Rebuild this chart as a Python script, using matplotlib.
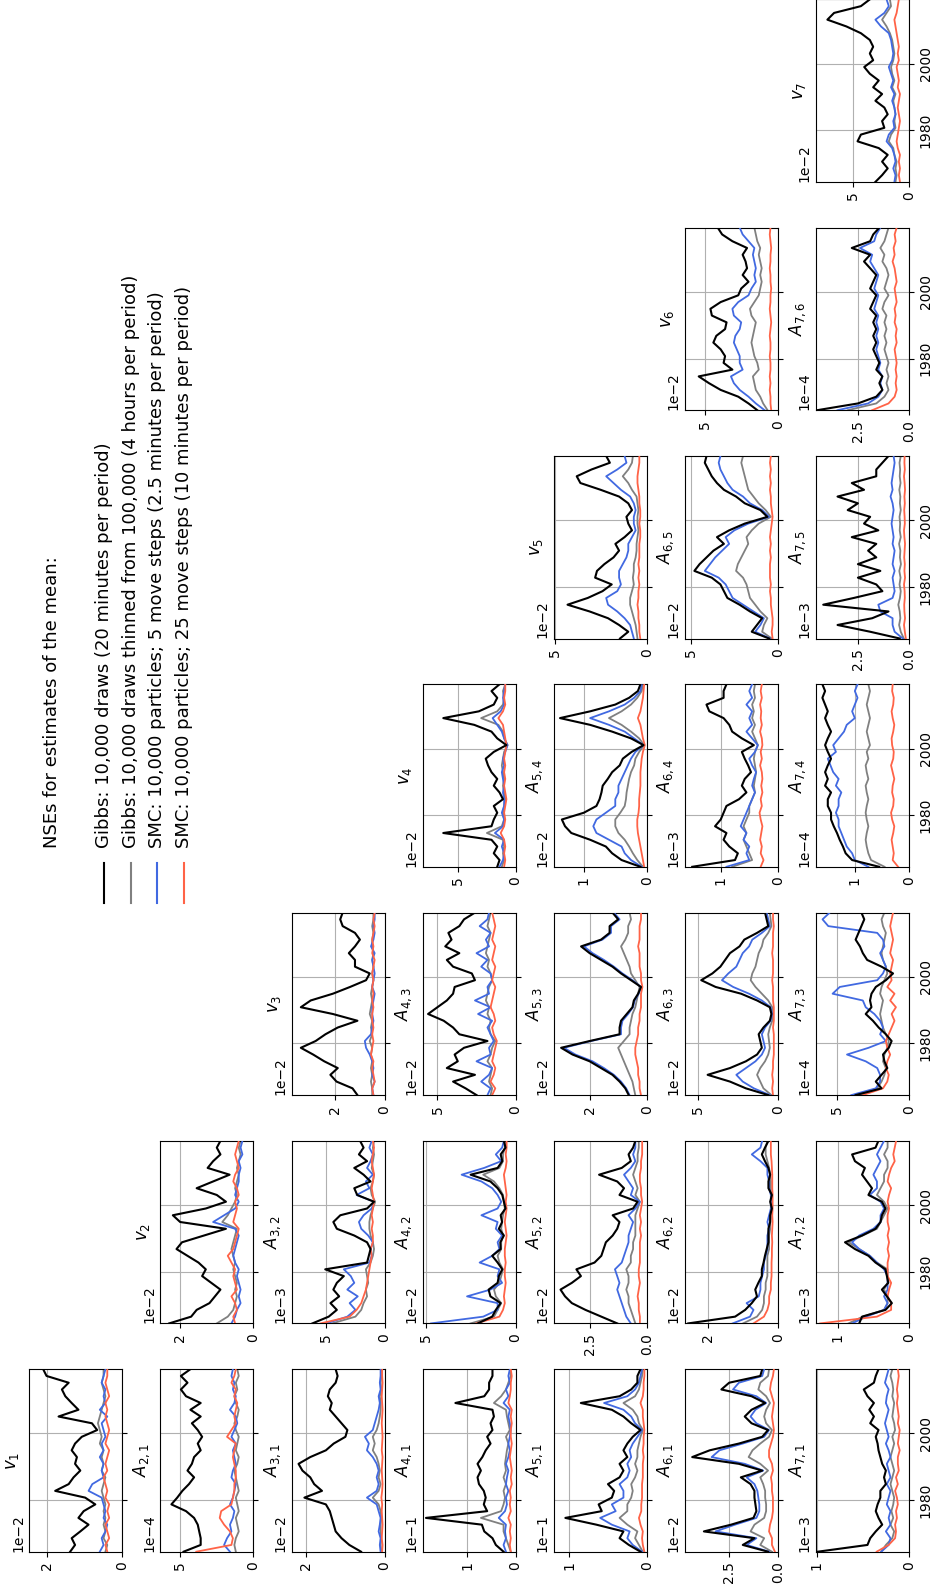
import numpy as np
import matplotlib
matplotlib.use("Agg")
import matplotlib.pyplot as plt
from matplotlib.lines import Line2D

# ---------------- data ----------------
YEARS = np.linspace(1964.5, 2019.3, 28)
SERIES = ["Gibbs: 10,000 draws (20 minutes per period)",
          "Gibbs: 10,000 draws thinned from 100,000 (4 hours per period)",
          "SMC: 10,000 particles; 5 move steps (2.5 minutes per period)",
          "SMC: 10,000 particles; 25 move steps (10 minutes per period)"]
COLORS = ["black", "#808080", "#4169e1", "#ff6347"]
LEGEND_TITLE = "NSEs for estimates of the mean:"

# each panel: [gibbs, gibbs thinned, smc 5 steps, smc 25 steps]  (values in units of 10^exp)
v1 = [[1.39,1.26,1.35,1.12,0.90,1.17,1.03,0.72,0.99,1.79,1.43,1.30,1.12,1.26,1.21,1.35,1.26,1.08,0.67,0.81,1.70,1.17,1.35,1.52,1.61,1.43,2.02,2.11],
      [0.45,0.40,0.50,0.45,0.50,0.45,0.50,0.45,0.50,0.55,0.50,0.45,0.55,0.50,0.55,0.50,0.60,0.55,0.60,0.65,0.60,0.55,0.50,0.45,0.50,0.55,0.50,0.50],
      [0.60,0.50,0.55,0.45,0.40,0.50,0.45,0.50,0.55,0.90,0.80,0.50,0.55,0.50,0.60,0.50,0.55,0.45,0.50,0.55,0.40,0.60,0.45,0.50,0.45,0.55,0.50,0.45],
      [0.40,0.45,0.35,0.40,0.45,0.35,0.40,0.35,0.45,0.40,0.45,0.50,0.40,0.45,0.40,0.35,0.45,0.40,0.35,0.40,0.45,0.40,0.45,0.35,0.40,0.45,0.40,0.40]]
A21 = [[4.77,3.6,3.6,3.7,3.8,4.05,4.6,5.6,5.2,4.85,4.4,4.05,4.5,4.2,4.05,3.6,3.8,3.5,3.8,4.2,3.6,4.3,3.6,4.6,4.95,4.5,4.95,4.3],
       [1.2,1.3,1.2,1.0,1.1,1.2,1.0,1.1,1.2,1.0,1.1,1.2,1.3,1.1,1.0,1.2,1.1,1.0,1.2,1.3,1.1,1.0,1.2,1.3,1.1,1.2,1.0,1.1],
       [1.6,2.0,1.8,1.5,1.6,1.4,1.3,1.6,1.4,1.3,1.2,1.5,1.4,1.2,1.3,1.4,1.2,1.5,1.3,1.1,1.2,1.6,1.3,1.2,1.4,1.3,1.5,1.4],
       [3.9,1.5,1.4,1.6,2.0,2.3,2.2,1.5,1.4,1.3,1.3,1.2,1.2,1.3,1.4,1.3,1.2,1.8,1.5,1.2,1.3,1.2,1.1,1.3,1.2,1.5,1.3,1.2]]
A31 = [[0.6,0.9,1.1,1.25,1.3,1.35,1.4,1.5,2.05,1.6,1.8,1.9,2.1,2.2,1.9,1.5,1.3,1.0,0.95,1.1,1.25,1.4,1.35,1.45,1.4,1.25,1.2,1.25],
       [0.08,0.1,0.08,0.1,0.1,0.08,0.1,0.15,0.3,0.15,0.1,0.15,0.12,0.15,0.2,0.3,0.25,0.3,0.2,0.15,0.12,0.1,0.1,0.12,0.08,0.1,0.08,0.08],
       [0.1,0.12,0.1,0.15,0.12,0.1,0.15,0.2,0.45,0.2,0.15,0.2,0.15,0.2,0.3,0.45,0.4,0.5,0.3,0.25,0.2,0.15,0.12,0.15,0.1,0.12,0.1,0.1],
       [0.06,0.05,0.07,0.06,0.05,0.06,0.07,0.06,0.08,0.06,0.05,0.06,0.07,0.06,0.05,0.07,0.06,0.05,0.06,0.07,0.06,0.05,0.06,0.07,0.06,0.05,0.06,0.06]]
A41 = [[0.25,0.41,0.48,0.65,0.7,1.86,0.59,0.66,0.62,0.66,0.76,0.79,0.72,0.79,0.69,0.62,0.52,0.59,0.48,0.52,0.45,0.48,1.25,0.65,0.55,0.55,0.48,0.48],
       [0.1,0.15,0.2,0.25,0.25,0.72,0.3,0.25,0.22,0.25,0.2,0.25,0.2,0.22,0.2,0.18,0.15,0.2,0.12,0.15,0.18,0.2,0.45,0.3,0.2,0.15,0.1,0.12],
       [0.2,0.25,0.2,0.22,0.2,0.35,0.22,0.18,0.2,0.15,0.2,0.18,0.15,0.2,0.15,0.12,0.15,0.12,0.1,0.12,0.15,0.12,0.25,0.15,0.2,0.12,0.15,0.12],
       [0.1,0.12,0.1,0.12,0.1,0.15,0.1,0.12,0.1,0.12,0.08,0.1,0.08,0.1,0.12,0.1,0.08,0.1,0.1,0.08,0.1,0.08,0.15,0.12,0.1,0.1,0.08,0.1]]
A51 = [[0.08,0.23,0.35,0.3,0.65,1.05,0.58,0.62,0.45,0.42,0.5,0.35,0.3,0.35,0.25,0.3,0.25,0.18,0.08,0.2,0.3,0.45,0.85,0.35,0.2,0.12,0.12,0.08],
       [0.05,0.1,0.15,0.12,0.25,0.35,0.25,0.25,0.2,0.18,0.2,0.15,0.12,0.15,0.12,0.12,0.1,0.08,0.05,0.1,0.12,0.18,0.3,0.15,0.1,0.08,0.06,0.05],
       [0.06,0.18,0.25,0.22,0.45,0.6,0.4,0.45,0.3,0.3,0.35,0.25,0.22,0.25,0.2,0.22,0.18,0.12,0.06,0.15,0.2,0.3,0.55,0.25,0.15,0.1,0.08,0.06],
       [0.03,0.05,0.06,0.05,0.08,0.1,0.07,0.07,0.06,0.06,0.06,0.05,0.05,0.05,0.04,0.05,0.04,0.04,0.03,0.04,0.05,0.05,0.08,0.05,0.04,0.04,0.03,0.03]]
A61 = [[0.5,1.8,1.2,3.8,2.4,1.25,1.1,1.15,1.2,1.2,1.4,1.9,0.8,2.0,4.4,3.5,2.0,0.8,0.5,1.35,1.7,1.35,0.65,1.35,2.9,2.5,0.9,0.8],
       [0.3,0.9,0.7,1.4,1.2,0.7,0.6,0.6,0.65,0.65,0.75,0.9,0.5,0.9,1.5,1.3,0.9,0.45,0.3,0.6,0.7,0.6,0.4,0.6,1.0,0.9,0.5,0.45],
       [0.45,1.6,1.1,3.2,2.2,1.1,0.95,0.95,1.0,1.05,1.2,1.6,0.75,1.7,3.4,3.0,1.8,0.7,0.45,1.1,1.4,1.15,0.6,1.1,2.3,2.0,0.8,0.7],
       [0.15,0.3,0.3,0.45,0.4,0.3,0.25,0.25,0.25,0.3,0.3,0.35,0.25,0.3,0.45,0.45,0.35,0.25,0.2,0.25,0.3,0.25,0.2,0.3,0.4,0.35,0.25,0.2]]
A71 = [[0.99,0.45,0.42,0.36,0.29,0.33,0.36,0.34,0.31,0.31,0.25,0.27,0.25,0.29,0.31,0.33,0.34,0.36,0.33,0.42,0.38,0.43,0.38,0.45,0.49,0.38,0.36,0.33],
       [0.3,0.25,0.18,0.16,0.2,0.17,0.19,0.17,0.16,0.18,0.2,0.18,0.16,0.18,0.2,0.18,0.16,0.18,0.15,0.16,0.18,0.17,0.16,0.18,0.17,0.18,0.2,0.18],
       [0.3,0.22,0.2,0.25,0.2,0.22,0.2,0.24,0.22,0.2,0.24,0.2,0.22,0.24,0.2,0.22,0.25,0.22,0.24,0.26,0.24,0.22,0.25,0.24,0.22,0.26,0.24,0.22],
       [0.35,0.22,0.15,0.14,0.15,0.13,0.14,0.12,0.13,0.15,0.12,0.14,0.11,0.12,0.12,0.1,0.12,0.11,0.1,0.12,0.11,0.12,0.13,0.12,0.13,0.12,0.11,0.12]]
v2 = [[2.3,1.7,1.55,1.2,1.05,0.9,1.15,1.4,1.3,1.5,1.8,2.1,1.95,1.35,0.75,2.0,2.2,1.3,0.75,1.0,1.55,1.1,0.65,1.25,1.1,0.9,1.0,0.9],
      [1.0,0.7,0.55,0.5,0.45,0.5,0.45,0.5,0.55,0.5,0.55,0.6,0.55,0.5,0.45,0.85,0.7,0.6,0.5,0.45,0.5,0.45,0.4,0.45,0.4,0.35,0.4,0.35],
      [0.6,0.5,0.45,0.35,0.4,0.35,0.4,0.45,0.4,0.5,0.55,0.5,0.45,0.4,0.5,1.1,0.8,0.5,0.4,0.5,0.45,0.4,0.4,0.35,0.4,0.3,0.35,0.3],
      [0.5,0.55,0.45,0.5,0.6,0.45,0.5,0.55,0.5,0.6,0.7,0.55,0.5,0.45,0.4,0.55,0.5,0.45,0.5,0.4,0.45,0.55,0.5,0.4,0.45,0.5,0.45,0.4]]
A32 = [[6.2,4.8,4.1,4.65,3.9,4.4,4.1,3.5,5.1,1.5,1.35,1.2,1.5,2.6,4.1,4.4,3.8,1.5,0.9,2.35,2.6,1.2,1.8,2.6,1.5,2.2,1.8,2.1],
       [4.5,2.5,2.0,1.8,1.5,1.6,1.4,1.5,1.6,1.2,1.0,0.9,1.0,1.2,1.3,1.3,1.2,1.0,0.8,1.1,1.2,1.0,0.9,1.1,1.0,0.9,1.0,0.9],
       [5.0,3.2,2.5,3.0,2.3,3.2,2.6,2.9,3.5,1.3,1.1,1.2,1.0,1.4,2.0,2.2,1.8,1.1,0.9,2.4,1.3,1.6,1.0,1.5,1.2,1.0,1.3,1.1],
       [5.5,3.0,2.4,2.0,1.8,1.6,1.5,1.4,1.3,1.2,1.1,1.2,1.0,1.0,1.1,1.0,1.1,1.0,0.9,1.0,1.1,1.0,0.9,1.0,1.1,1.0,0.9,1.0]]
A42 = [[2.1,1.3,1.1,0.83,1.4,1.5,1.0,0.93,0.74,1.0,1.3,0.83,0.85,0.65,0.93,0.75,0.83,0.56,0.65,0.74,1.0,1.4,2.5,1.0,0.74,0.83,0.56,0.65],
       [2.5,1.2,1.0,0.8,1.1,1.2,0.9,0.8,0.7,0.9,1.0,0.8,0.8,0.7,0.8,0.75,0.7,0.6,0.65,0.7,0.9,1.2,1.8,0.9,0.7,0.7,0.6,0.6],
       [4.7,1.8,1.0,1.0,2.7,1.4,0.75,1.0,0.9,2.0,1.3,0.9,1.0,0.75,1.1,1.0,1.9,1.0,0.8,1.0,1.3,1.9,3.0,1.75,0.8,1.1,0.75,0.65],
       [2.2,0.9,0.7,0.6,0.65,0.6,0.55,0.6,0.6,0.55,0.6,0.6,0.55,0.5,0.55,0.6,0.55,0.5,0.55,0.5,0.55,0.6,0.65,0.55,0.5,0.55,0.5,0.5]]
A52 = [[1.3,2.0,2.7,3.3,3.6,3.8,3.3,2.9,3.1,2.3,2.0,1.9,1.8,1.5,1.3,1.2,1.5,0.6,0.4,1.2,1.0,1.3,2.1,1.1,0.7,0.8,0.6,0.5],
       [0.5,0.6,0.7,0.8,0.8,0.9,0.8,0.8,0.9,0.7,0.7,0.6,0.6,0.5,0.5,0.5,0.5,0.4,0.3,0.5,0.4,0.5,0.6,0.5,0.4,0.4,0.35,0.35],
       [0.7,0.9,1.0,1.1,1.2,1.3,1.2,1.3,1.4,1.1,1.0,0.9,0.8,0.8,0.7,0.6,0.8,0.5,0.3,0.7,0.6,0.8,1.0,0.7,0.5,0.6,0.5,0.5],
       [0.3,0.3,0.35,0.35,0.4,0.35,0.3,0.35,0.35,0.3,0.3,0.3,0.3,0.25,0.3,0.25,0.3,0.25,0.2,0.25,0.25,0.3,0.3,0.25,0.25,0.2,0.2,0.2]]
A62 = [[2.58,1.23,0.94,0.75,0.6,0.65,0.56,0.46,0.46,0.41,0.37,0.32,0.27,0.27,0.27,0.22,0.22,0.17,0.22,0.17,0.27,0.27,0.22,0.27,0.37,0.46,0.37,0.27],
       [1.0,0.6,0.45,0.4,0.4,0.35,0.35,0.3,0.3,0.3,0.3,0.25,0.25,0.25,0.22,0.22,0.2,0.2,0.2,0.2,0.2,0.2,0.22,0.25,0.3,0.35,0.35,0.3],
       [1.3,0.8,0.7,0.9,0.55,0.5,0.5,0.45,0.4,0.4,0.35,0.3,0.3,0.3,0.25,0.3,0.25,0.2,0.2,0.2,0.25,0.25,0.3,0.3,0.5,0.75,0.5,0.45],
       [0.7,0.4,0.3,0.25,0.25,0.2,0.2,0.18,0.18,0.18,0.17,0.17,0.16,0.17,0.16,0.15,0.16,0.15,0.15,0.15,0.16,0.16,0.16,0.17,0.18,0.2,0.2,0.2]]
A72 = [[0.7,0.66,0.33,0.24,0.31,0.38,0.29,0.31,0.33,0.47,0.57,0.76,0.9,0.66,0.47,0.4,0.38,0.33,0.38,0.57,0.52,0.59,0.66,0.62,0.76,0.8,0.47,0.43],
       [0.85,0.65,0.35,0.3,0.3,0.35,0.3,0.3,0.3,0.45,0.55,0.7,0.85,0.65,0.45,0.4,0.35,0.3,0.35,0.45,0.4,0.35,0.35,0.3,0.3,0.35,0.3,0.3],
       [0.8,0.6,0.35,0.3,0.35,0.3,0.3,0.3,0.35,0.45,0.55,0.7,0.8,0.7,0.5,0.4,0.4,0.35,0.4,0.55,0.45,0.45,0.5,0.45,0.4,0.45,0.4,0.35],
       [1.25,0.45,0.25,0.25,0.3,0.28,0.25,0.3,0.3,0.3,0.28,0.3,0.28,0.3,0.28,0.3,0.3,0.28,0.3,0.28,0.25,0.3,0.28,0.25,0.2,0.22,0.2,0.18]]
v3 = [[1.1,1.3,1.95,2.2,1.9,2.45,2.9,3.4,2.8,2.4,1.9,1.1,2.1,3.4,3.0,2.1,1.4,0.75,0.6,1.2,1.2,1.45,1.2,1.0,1.2,1.7,1.8,1.7],
      [0.5,0.5,0.55,0.5,0.55,0.5,0.55,0.5,0.6,0.5,0.55,0.5,0.6,0.55,0.5,0.55,0.5,0.45,0.5,0.45,0.5,0.45,0.5,0.5,0.45,0.5,0.45,0.45],
      [0.45,0.5,0.4,0.5,0.45,0.5,0.6,0.75,0.8,0.55,0.5,0.45,0.5,0.5,0.45,0.4,0.5,0.45,0.4,0.45,0.5,0.4,0.55,0.45,0.4,0.45,0.4,0.4],
      [0.45,0.5,0.4,0.45,0.5,0.45,0.55,0.5,0.45,0.5,0.45,0.5,0.5,0.45,0.5,0.45,0.5,0.45,0.5,0.45,0.4,0.5,0.45,0.5,0.45,0.4,0.45,0.4]]
A43 = [[2.5,3.2,4.0,2.6,4.4,3.7,3.9,3.3,1.8,3.6,4.0,4.6,5.6,5.0,4.4,4.0,3.9,2.6,2.8,4.0,4.4,3.6,4.5,4.1,4.3,3.6,3.3,2.6],
       [1.6,1.5,1.7,1.6,1.5,1.8,1.6,1.5,1.3,1.6,1.7,1.6,1.8,1.7,1.9,1.8,1.7,1.5,1.6,1.8,1.7,1.9,1.8,1.7,1.6,1.8,1.7,1.6],
       [1.8,1.6,2.2,1.7,1.5,2.5,1.6,1.7,1.4,1.6,1.8,1.5,2.4,1.6,2.6,1.7,1.8,1.5,1.6,2.2,1.8,2.5,1.7,1.9,1.6,2.3,1.8,1.7],
       [1.5,1.3,1.6,1.4,1.3,1.5,1.4,1.3,1.2,1.4,1.5,1.3,1.4,1.6,1.5,1.4,1.3,1.5,1.4,1.3,1.5,1.4,1.3,1.5,1.4,1.3,1.4,1.5]]
A53 = [[0.63,0.75,0.95,1.2,1.6,2.0,2.6,3.0,2.0,0.95,0.95,0.9,0.7,0.5,0.45,0.3,0.2,0.55,0.9,1.2,1.6,2.0,2.3,1.6,1.3,1.3,1.0,1.2],
       [0.4,0.45,0.5,0.6,0.7,0.8,0.9,1.0,0.8,0.6,0.6,0.55,0.5,0.4,0.35,0.3,0.25,0.4,0.55,0.6,0.7,0.8,0.9,0.75,0.65,0.65,0.55,0.6],
       [0.6,0.72,0.9,1.15,1.5,1.9,2.5,2.9,1.95,0.9,0.9,0.85,0.65,0.48,0.42,0.28,0.2,0.5,0.85,1.15,1.5,1.9,2.2,1.55,1.25,1.25,0.95,1.15],
       [0.2,0.25,0.25,0.3,0.3,0.35,0.4,0.4,0.35,0.3,0.3,0.25,0.25,0.2,0.2,0.2,0.15,0.2,0.2,0.25,0.25,0.25,0.3,0.25,0.25,0.25,0.2,0.2]]
A63 = [[0.6,2.0,3.0,4.4,3.0,2.0,1.3,1.0,1.1,1.2,0.9,0.5,0.4,0.5,1.3,2.3,3.9,4.8,4.1,3.6,3.3,3.0,2.4,2.1,1.3,0.6,0.7,0.8],
       [0.4,0.9,1.1,1.3,1.1,0.8,0.6,0.5,0.55,0.6,0.5,0.35,0.3,0.35,0.6,1.0,1.4,1.7,1.6,1.4,1.3,1.2,1.0,0.9,0.6,0.4,0.45,0.5],
       [0.5,1.5,2.2,2.6,2.0,1.4,1.0,0.8,0.9,1.0,0.8,0.45,0.35,0.45,1.0,1.8,2.8,3.5,3.1,2.6,2.4,2.2,1.8,1.6,1.0,0.5,0.6,0.7],
       [0.3,0.35,0.3,0.35,0.3,0.3,0.25,0.25,0.25,0.25,0.3,0.25,0.25,0.25,0.3,0.3,0.3,0.35,0.3,0.3,0.3,0.35,0.3,0.3,0.3,0.25,0.3,0.3]]
A73 = [[3.7,1.9,2.3,1.9,1.5,1.7,1.8,1.4,1.2,1.6,2.1,2.5,3.0,2.6,2.7,2.6,2.3,1.6,1.1,1.9,2.9,3.2,3.4,3.7,3.5,3.3,3.1,3.3],
       [3.5,2.2,1.9,1.7,1.6,1.8,1.7,1.5,1.4,1.6,1.8,1.9,2.0,1.9,1.8,2.0,1.9,1.7,1.5,1.6,1.8,1.9,1.8,1.7,1.6,1.8,1.9,1.7],
       [4.0,2.3,2.0,2.0,2.2,3.0,4.3,2.8,1.6,2.0,1.8,2.0,2.4,3.0,3.2,5.3,4.8,2.2,1.8,1.6,1.8,2.0,1.7,1.8,2.2,5.6,6.0,5.5],
       [3.2,1.8,1.5,1.4,1.6,1.5,1.3,1.5,1.6,1.4,1.2,1.0,1.2,0.9,1.3,1.0,1.5,1.2,1.3,1.2,1.1,1.3,1.2,1.1,1.2,1.3,1.2,1.1]]
v4 = [[1.6,1.4,1.9,1.6,2.1,6.3,2.1,1.9,1.6,1.9,1.1,1.4,1.9,1.6,2.1,2.4,2.6,1.9,0.8,1.6,2.1,3.6,6.3,3.2,1.9,1.6,2.1,1.4],
      [1.2,1.0,1.1,1.0,1.1,2.5,1.2,1.0,1.1,1.0,0.9,1.0,1.1,1.0,1.1,1.2,1.1,1.0,0.7,1.0,1.1,1.5,3.0,1.6,1.1,1.0,1.1,0.9],
      [1.4,1.1,1.0,1.2,1.0,1.8,1.1,1.0,1.2,1.0,1.0,1.1,1.0,1.1,1.2,1.0,1.1,0.9,0.7,1.0,1.2,1.6,2.0,1.3,1.0,1.1,1.0,0.9],
      [1.0,0.9,1.0,0.9,1.0,1.3,1.0,0.9,1.0,0.9,0.8,0.9,1.0,0.9,1.0,0.9,1.0,0.9,0.8,0.9,1.0,1.1,1.5,1.1,0.9,1.0,0.9,0.9]]
A54 = [[0.1,0.4,0.55,0.65,0.9,1.2,1.3,1.35,1.0,0.8,0.75,0.72,0.7,0.62,0.55,0.43,0.38,0.24,0.05,0.25,0.55,0.9,1.38,0.9,0.5,0.28,0.14,0.1],
       [0.06,0.15,0.22,0.28,0.35,0.45,0.5,0.5,0.42,0.35,0.33,0.32,0.3,0.28,0.25,0.2,0.18,0.12,0.04,0.12,0.25,0.4,0.6,0.4,0.25,0.15,0.08,0.06],
       [0.08,0.25,0.35,0.4,0.6,0.8,0.85,0.8,0.65,0.5,0.5,0.45,0.45,0.4,0.35,0.3,0.25,0.18,0.05,0.2,0.35,0.6,0.9,0.6,0.35,0.2,0.1,0.08],
       [0.04,0.06,0.08,0.1,0.12,0.14,0.15,0.15,0.13,0.12,0.12,0.11,0.1,0.1,0.1,0.09,0.08,0.06,0.03,0.06,0.08,0.1,0.14,0.1,0.08,0.06,0.05,0.04]]
A64 = [[1.5,0.75,0.7,0.85,0.95,0.9,1.1,1.0,0.95,0.9,0.68,0.55,0.63,0.58,0.47,0.52,0.58,0.63,0.42,0.63,0.8,0.85,0.95,1.2,1.25,0.95,0.95,0.9],
       [0.8,0.45,0.5,0.55,0.6,0.55,0.6,0.55,0.5,0.5,0.45,0.4,0.42,0.4,0.38,0.4,0.42,0.4,0.35,0.4,0.45,0.4,0.45,0.42,0.45,0.4,0.42,0.4],
       [0.9,0.5,0.55,0.5,0.6,0.55,0.65,0.6,0.55,0.5,0.45,0.4,0.45,0.42,0.38,0.45,0.5,0.4,0.35,0.45,0.55,0.45,0.5,0.45,0.55,0.45,0.5,0.45],
       [0.3,0.25,0.3,0.28,0.31,0.29,0.27,0.3,0.32,0.28,0.3,0.27,0.29,0.27,0.28,0.31,0.28,0.3,0.27,0.28,0.31,0.28,0.3,0.29,0.31,0.28,0.3,0.28]]
A74 = [[0.55,1.05,1.17,1.22,1.28,1.33,1.39,1.44,1.44,1.5,1.5,1.44,1.55,1.5,1.55,1.5,1.44,1.5,1.55,1.5,1.44,1.5,1.55,1.5,1.55,1.6,1.55,1.6],
       [0.45,0.7,0.75,0.78,0.8,0.78,0.75,0.78,0.8,0.78,0.75,0.78,0.8,0.75,0.78,0.8,0.75,0.78,0.72,0.75,0.78,0.75,0.72,0.75,0.78,0.75,0.72,0.75],
       [0.75,1.0,1.05,1.15,1.2,1.25,1.3,1.3,1.35,1.3,1.3,1.25,1.35,1.3,1.4,1.45,1.5,1.35,1.4,1.3,1.2,1.15,1.0,1.05,1.0,0.95,1.0,0.95],
       [0.2,0.3,0.28,0.3,0.32,0.29,0.27,0.31,0.33,0.29,0.28,0.31,0.3,0.27,0.3,0.33,0.29,0.28,0.31,0.32,0.29,0.27,0.3,0.32,0.29,0.28,0.31,0.3]]
v5 = [[1.45,1.0,1.5,2.1,3.1,4.3,3.2,2.4,1.9,2.8,2.7,2.3,1.8,1.5,1.7,1.2,0.8,1.0,1.1,0.8,1.0,1.5,2.5,3.6,3.8,3.0,2.0,2.2],
      [0.5,0.55,0.6,0.7,0.8,0.9,0.9,0.8,0.7,0.75,0.7,0.7,0.6,0.55,0.55,0.5,0.45,0.5,0.5,0.45,0.5,0.55,0.8,1.0,1.3,1.0,0.8,0.75],
      [0.7,0.8,0.9,1.2,1.6,2.1,2.2,1.6,1.4,1.5,1.5,1.3,1.1,1.0,1.0,0.8,0.6,0.7,0.7,0.6,0.7,0.9,1.4,1.8,2.2,1.6,1.1,1.2],
      [0.35,0.4,0.4,0.45,0.45,0.5,0.45,0.45,0.4,0.45,0.4,0.45,0.4,0.4,0.4,0.35,0.35,0.4,0.35,0.35,0.4,0.4,0.45,0.5,0.5,0.45,0.4,0.4]]
A65 = [[0.5,1.5,1.2,0.9,1.6,2.2,2.9,3.1,3.3,3.8,4.8,4.5,4.1,3.7,3.1,3.5,2.8,1.9,0.6,1.0,1.9,2.4,3.1,3.5,3.8,4.0,4.2,4.1],
       [0.35,0.9,0.8,0.6,1.0,1.3,1.6,1.7,1.8,2.0,2.4,2.3,2.1,1.9,1.7,1.8,1.5,1.1,0.4,0.7,1.1,1.4,1.7,1.8,1.9,2.0,2.1,2.0],
       [0.45,1.3,1.0,0.8,1.4,2.0,2.6,2.8,3.0,3.4,4.2,3.9,3.6,3.2,2.8,3.0,2.5,1.7,0.5,0.9,1.6,2.0,2.6,2.9,3.1,3.3,3.4,3.3],
       [0.3,0.35,0.3,0.3,0.35,0.4,0.4,0.45,0.4,0.45,0.45,0.45,0.4,0.45,0.4,0.45,0.4,0.35,0.3,0.35,0.4,0.4,0.45,0.4,0.45,0.4,0.45,0.4]]
A75 = [[0.45,1.9,3.5,1.8,1.0,4.2,2.7,1.3,1.6,2.5,1.4,2.5,1.6,2.0,1.6,2.8,1.5,2.2,1.9,3.0,2.5,3.5,2.2,2.8,1.6,1.6,1.3,1.0],
       [0.25,0.40,0.48,0.42,0.45,0.52,0.44,0.40,0.46,0.41,0.47,0.39,0.44,0.42,0.48,0.40,0.45,0.43,0.46,0.40,0.44,0.42,0.47,0.41,0.45,0.43,0.46,0.40],
       [0.3,0.7,0.8,0.8,1.4,1.5,0.8,0.7,0.75,0.8,0.7,0.8,0.75,0.7,0.8,0.75,0.8,0.85,0.8,0.75,0.8,0.9,0.8,0.85,0.8,0.75,0.7,0.75],
       [0.15,0.20,0.24,0.19,0.22,0.23,0.20,0.21,0.24,0.19,0.22,0.20,0.23,0.21,0.19,0.22,0.24,0.20,0.21,0.23,0.20,0.22,0.19,0.21,0.24,0.20,0.22,0.21]]
v6 = [[1.4,2.0,2.7,3.9,4.7,5.4,3.1,3.7,3.6,3.9,4.4,4.2,3.6,3.5,4.5,4.6,3.9,2.7,2.5,2.0,2.4,2.1,2.2,2.4,2.1,3.1,3.8,4.1],
      [0.7,1.0,1.2,1.5,1.6,1.7,1.3,1.4,1.6,1.7,1.8,1.7,1.6,1.5,1.8,1.9,1.6,1.3,1.2,1.1,1.2,1.1,1.2,1.3,1.2,1.4,1.5,1.6],
      [0.9,1.5,2.0,2.6,3.0,3.2,2.4,2.6,2.6,2.8,3.0,2.9,2.6,2.5,3.0,3.1,2.7,2.0,1.8,1.5,1.6,1.5,1.6,1.7,1.6,2.0,2.4,2.6],
      [0.45,0.5,0.5,0.55,0.5,0.55,0.5,0.5,0.55,0.5,0.5,0.55,0.5,0.45,0.5,0.55,0.5,0.5,0.45,0.5,0.5,0.55,0.5,0.5,0.45,0.5,0.55,0.5]]
A76 = [[4.5,2.5,1.6,1.3,1.45,1.3,1.6,1.45,1.6,1.75,1.6,1.75,1.6,1.75,1.6,1.9,1.75,1.6,1.9,1.75,1.6,1.9,2.2,1.9,2.8,1.9,1.75,1.45],
       [3.0,1.6,1.2,1.0,1.1,1.0,1.1,1.0,1.1,1.2,1.1,1.2,1.1,1.2,1.1,1.3,1.2,1.0,1.2,1.1,1.0,1.1,1.3,1.2,1.4,1.2,1.1,1.0],
       [3.5,2.0,1.5,1.3,1.4,1.3,1.5,1.4,1.5,1.6,1.5,1.6,1.5,1.6,1.5,1.7,1.6,1.5,1.7,1.6,1.5,1.7,1.9,1.8,2.4,1.7,1.6,1.4],
       [1.8,1.0,0.7,0.6,0.65,0.6,0.65,0.6,0.65,0.7,0.6,0.65,0.6,0.7,0.65,0.7,0.6,0.65,0.7,0.6,0.65,0.7,0.8,0.7,0.75,0.65,0.7,0.6]]
v7 = [[3.0,2.4,1.9,2.4,1.9,2.7,4.6,4.3,2.2,2.4,1.9,2.2,3.0,2.4,3.2,2.7,3.5,4.0,3.2,3.5,3.2,3.5,4.3,5.6,7.3,6.7,4.3,3.5],
      [1.2,1.1,1.2,1.1,1.3,1.4,1.8,1.6,1.2,1.3,1.2,1.3,1.4,1.2,1.5,1.3,1.5,1.6,1.4,1.3,1.4,1.5,1.7,2.0,2.4,2.0,1.6,1.7],
      [1.3,1.2,1.4,1.2,1.3,1.5,2.0,1.8,1.3,1.4,1.2,1.3,1.5,1.3,1.6,1.4,1.6,1.8,1.5,1.4,1.5,1.6,1.8,2.5,3.0,2.2,1.8,2.0],
      [0.8,0.9,0.8,0.9,0.8,1.0,1.1,1.0,0.9,0.8,0.9,1.0,0.9,0.8,1.0,0.9,1.0,1.1,0.9,1.0,0.9,1.0,1.1,1.2,1.3,1.1,1.0,0.9]]

# (row of variable, column, title, data, exponent, axis max, ticks)
PANELS = [
    (1, 1, r"$v_1$", v1, -2, 2.48, [0, 2]),
    (2, 1, r"$A_{2,1}$", A21, -4, 6.35, [0, 5]),
    (3, 1, r"$A_{3,1}$", A31, -2, 2.38, [0, 2]),
    (4, 1, r"$A_{4,1}$", A41, -1, 1.93, [0, 1]),
    (5, 1, r"$A_{5,1}$", A51, -1, 1.2, [0, 1]),
    (6, 1, r"$A_{6,1}$", A61, -2, 4.78, [0, 2.5]),
    (7, 1, r"$A_{7,1}$", A71, -3, 1.01, [0, 1]),
    (2, 2, r"$v_2$", v2, -2, 2.54, [0, 2]),
    (3, 2, r"$A_{3,2}$", A32, -3, 8.0, [0, 5]),
    (4, 2, r"$A_{4,2}$", A42, -2, 5.17, [0, 5]),
    (5, 2, r"$A_{5,2}$", A52, -2, 4.1, [0, 2.5]),
    (6, 2, r"$A_{6,2}$", A62, -2, 2.68, [0, 2]),
    (7, 2, r"$A_{7,2}$", A72, -3, 1.31, [0, 1]),
    (3, 3, r"$v_3$", v3, -2, 3.78, [0, 2]),
    (4, 3, r"$A_{4,3}$", A43, -2, 5.95, [0, 5]),
    (5, 3, r"$A_{5,3}$", A53, -2, 3.26, [0, 2]),
    (6, 3, r"$A_{6,3}$", A63, -2, 5.83, [0, 5]),
    (7, 3, r"$A_{7,3}$", A73, -4, 6.46, [0, 5]),
    (4, 4, r"$v_4$", v4, -2, 8.1, [0, 5]),
    (5, 4, r"$A_{5,4}$", A54, -2, 1.48, [0, 1]),
    (6, 4, r"$A_{6,4}$", A64, -3, 1.63, [0, 1]),
    (7, 4, r"$A_{7,4}$", A74, -4, 1.72, [0, 1]),
    (5, 5, r"$v_5$", v5, -2, 5.05, [0, 5]),
    (6, 5, r"$A_{6,5}$", A65, -2, 5.35, [0, 5]),
    (7, 5, r"$A_{7,5}$", A75, -3, 4.56, [0, 2.5]),
    (6, 6, r"$v_6$", v6, -2, 6.35, [0, 5]),
    (7, 6, r"$A_{7,6}$", A76, -4, 4.56, [0, 2.5]),
    (7, 7, r"$v_7$", v7, -2, 8.33, [0, 5]),
]

# ---------------- figure ----------------
W, H = 933, 1585
fig = plt.figure(figsize=(W / 100, H / 100), dpi=100)

LWS = [1.5, 1.3, 1.3, 1.3]
ZORD = [5, 2, 3, 4]
PW, PH = 93.0, 182.5

for (i, j, title, data, ex, vmax, ticks) in PANELS:
    left = 29.3 + (i - 1) * 131.1
    top = 1369.2 - (j - 1) * 228.3
    ax = fig.add_axes([left / W, 1 - (top + PH) / H, PW / W, PH / H])
    for s, c, lw, z in zip(data, COLORS, LWS, ZORD):
        ax.plot(s, YEARS, color=c, lw=lw, zorder=z)
    ax.set_xlim(vmax, 0)
    ax.set_ylim(1964.5, 2019.3)
    ax.set_xticks(ticks)
    ax.set_yticks([1980, 2000])
    ax.yaxis.tick_right()
    ax.grid(True, color="#b0b0b0", lw=0.8, zorder=0)
    ax.set_axisbelow(True)
    ax.tick_params(axis="x", labelrotation=90, labelsize=10)
    if i == 7:
        ax.tick_params(axis="y", labelright=True, labelrotation=90, labelsize=10)
        for lab in ax.yaxis.get_ticklabels():
            lab.set_verticalalignment("center")
    else:
        ax.tick_params(axis="y", labelright=False)
    ax.annotate(title, xy=(0, 0.5), xycoords="axes fraction", xytext=(-6, 0),
                textcoords="offset points", rotation=90, ha="right", va="center",
                fontsize=12)
    ax.annotate("1e\u2212%d" % (-ex), xy=(0, 0), xycoords="axes fraction",
                xytext=(-3, 0), textcoords="offset points", rotation=90,
                ha="right", va="bottom", fontsize=10)

# legend drawn rotated like the rest of the figure
fig.text(52 / W, 1 - 848 / H, LEGEND_TITLE, rotation=90, ha="center", va="bottom",
         fontsize=13)
for k, (lab, c) in enumerate(zip(SERIES, COLORS)):
    xp = 104.4 + 26.5 * k
    fig.add_artist(Line2D([xp / W, xp / W], [1 - 903 / H, 1 - 863 / H],
                          transform=fig.transFigure, color=c, lw=1.5))
    fig.text(xp / W, 1 - 848 / H, lab, rotation=90, ha="center", va="bottom",
             fontsize=13)

fig.savefig("out.png", dpi=100)
